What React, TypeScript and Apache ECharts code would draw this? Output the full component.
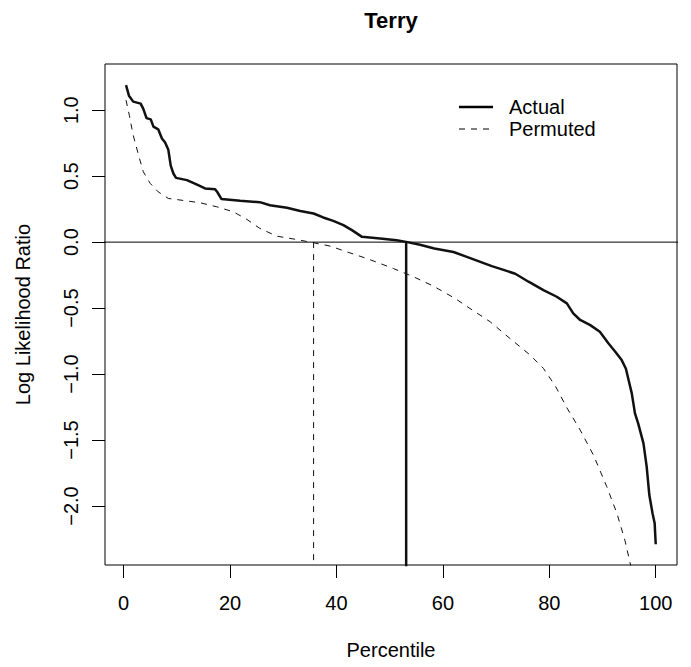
import React, { useEffect, useRef } from "react";
import * as echarts from "echarts";

const FONT = "'Liberation Sans', Arial, Helvetica, sans-serif";

const actualX = [0.45, 1.0, 1.8, 3.2, 3.7, 4.3, 5.1, 5.6, 6.5, 7.2, 7.8, 8.4, 8.85, 9.35, 9.85, 11.9, 13.7, 15.3, 17.2, 17.6, 18.4, 21.9, 25.6, 27.5, 30.7, 33.2, 35.7, 37.5, 39.4, 41.3, 42.9, 44.8, 48.2, 51.3, 53.1, 55.7, 58.4, 62.0, 64.5, 66.4, 69.2, 71.4, 73.6, 76.1, 78.9, 81.4, 83.3, 84.5, 85.8, 87.7, 89.5, 91.1, 92.4, 93.6, 94.4, 94.9, 95.5, 96.1, 96.7, 97.7, 98.3, 98.8, 99.4, 99.8, 100];
const actualY = [1.19, 1.11, 1.065, 1.05, 1.01, 0.94, 0.93, 0.875, 0.855, 0.785, 0.755, 0.7, 0.58, 0.52, 0.487, 0.47, 0.437, 0.407, 0.4, 0.38, 0.326, 0.313, 0.303, 0.28, 0.26, 0.236, 0.217, 0.187, 0.161, 0.129, 0.091, 0.04, 0.028, 0.015, 0.002, -0.02, -0.048, -0.075, -0.112, -0.14, -0.182, -0.21, -0.24, -0.3, -0.364, -0.414, -0.464, -0.54, -0.59, -0.629, -0.68, -0.767, -0.831, -0.894, -0.96, -1.045, -1.146, -1.298, -1.374, -1.525, -1.702, -1.917, -2.055, -2.13, -2.29];

const permutedX = [0.45, 1.07, 1.8, 2.8, 3.7, 5.0, 6.5, 8.4, 11.2, 14.4, 17.5, 20.6, 23.1, 25.6, 28.8, 32.5, 35.7, 38.8, 41.9, 45.7, 50.7, 54.5, 58.2, 62.3, 65.1, 68.9, 72.6, 76.4, 78.9, 81.2, 83.3, 85.8, 88.3, 90.8, 92.7, 94.2, 95.4];
const permutedY = [1.076, 0.962, 0.81, 0.66, 0.533, 0.445, 0.381, 0.331, 0.316, 0.298, 0.268, 0.23, 0.174, 0.104, 0.045, 0.02, -0.005, -0.03, -0.073, -0.124, -0.2, -0.263, -0.333, -0.427, -0.503, -0.604, -0.73, -0.856, -0.957, -1.095, -1.255, -1.424, -1.614, -1.853, -2.055, -2.258, -2.47];

const actualCut = 53.1;
const permutedCut = 35.7;

const xTicks = [0, 20, 40, 60, 80, 100];
const yTicks = [-2, -1.5, -1, -0.5, 0, 0.5, 1];

const fmtY = (v: number) => v.toFixed(1).replace("-", "\u2212");

export default function App() {
  const ref = useRef<HTMLDivElement>(null);
  useEffect(() => {
    if (!ref.current) return;
    const chart = echarts.init(ref.current, null, { renderer: "svg" });
    const axisText = { color: "#000", fontFamily: FONT, fontSize: 20 };
    chart.setOption({
      animation: false,
      backgroundColor: "#fff",
      grid: {
        left: 105,
        right: 14,
        top: 64,
        bottom: 102,
        show: true,
        borderColor: "#000",
        borderWidth: 1,
        backgroundColor: "transparent",
      },
      xAxis: {
        type: "value",
        min: -3.5,
        max: 104,
        name: "Percentile",
        nameLocation: "middle",
        nameGap: 75,
        nameTextStyle: axisText,
        axisLine: { show: false, onZero: false },
        splitLine: { show: false },
        axisTick: {
          show: true,
          inside: false,
          length: 13,
          customValues: xTicks,
          lineStyle: { color: "#000", width: 1 },
        },
        axisLabel: {
          ...axisText,
          margin: 28,
          customValues: xTicks,
          formatter: (v: number) => String(v),
        },
      },
      yAxis: {
        type: "value",
        min: -2.447,
        max: 1.35,
        name: "Log Likelihood Ratio",
        nameLocation: "middle",
        nameGap: 72,
        nameRotate: 90,
        nameTextStyle: axisText,
        axisLine: { show: false, onZero: false },
        splitLine: { show: false },
        axisTick: {
          show: true,
          inside: false,
          length: 13,
          customValues: yTicks,
          lineStyle: { color: "#000", width: 1 },
        },
        axisLabel: {
          ...axisText,
          rotate: 90,
          margin: 24,
          customValues: yTicks,
          formatter: (v: number) => fmtY(v),
        },
      },
      graphic: [
        { type: "text", x: 391, y: 20, style: { text: "Terry", fontFamily: FONT, fontSize: 22, fontWeight: "bold", fill: "#000", textAlign: "center", textVerticalAlign: "middle" } },
        { type: "line", shape: { x1: 459, y1: 107, x2: 493, y2: 107 }, style: { stroke: "#000", lineWidth: 2.5 } },
        { type: "line", shape: { x1: 459, y1: 129, x2: 493, y2: 129 }, style: { stroke: "#000", lineWidth: 1, lineDash: [6, 6] } },
        { type: "text", x: 509, y: 107, style: { text: "Actual", fontFamily: FONT, fontSize: 20, fill: "#000", textAlign: "left", textVerticalAlign: "middle" } },
        { type: "text", x: 509, y: 129, style: { text: "Permuted", fontFamily: FONT, fontSize: 20, fill: "#000", textAlign: "left", textVerticalAlign: "middle" } },
      ],
      series: [
        {
          name: "Zero",
          type: "line",
          data: [[-10, 0], [120, 0]],
          showSymbol: false,
          symbol: "none",
          clip: true,
          lineStyle: { color: "#000", width: 1 },
          silent: true,
        },
        {
          name: "Actual",
          type: "line",
          data: actualX.map((x, i) => [x, actualY[i]]),
          showSymbol: false,
          symbol: "none",
          clip: true,
          lineStyle: { color: "#111", width: 2.5 },
        },
        {
          name: "Permuted",
          type: "line",
          data: permutedX.map((x, i) => [x, permutedY[i]]),
          showSymbol: false,
          symbol: "none",
          clip: true,
          lineStyle: { color: "#111", width: 1, type: [6, 6] },
        },
        {
          name: "Actual cut",
          type: "line",
          data: [[actualCut, 0], [actualCut, -5]],
          showSymbol: false,
          symbol: "none",
          clip: true,
          lineStyle: { color: "#111", width: 2.5 },
        },
        {
          name: "Permuted cut",
          type: "line",
          data: [[permutedCut, 0], [permutedCut, -5]],
          showSymbol: false,
          symbol: "none",
          clip: true,
          lineStyle: { color: "#111", width: 1, type: [6, 6] },
        },
      ],
    });
    return () => chart.dispose();
  }, []);
  return <div ref={ref} style={{ width: 691, height: 667, position: "absolute", left: 0, top: 0 }} />;
}
